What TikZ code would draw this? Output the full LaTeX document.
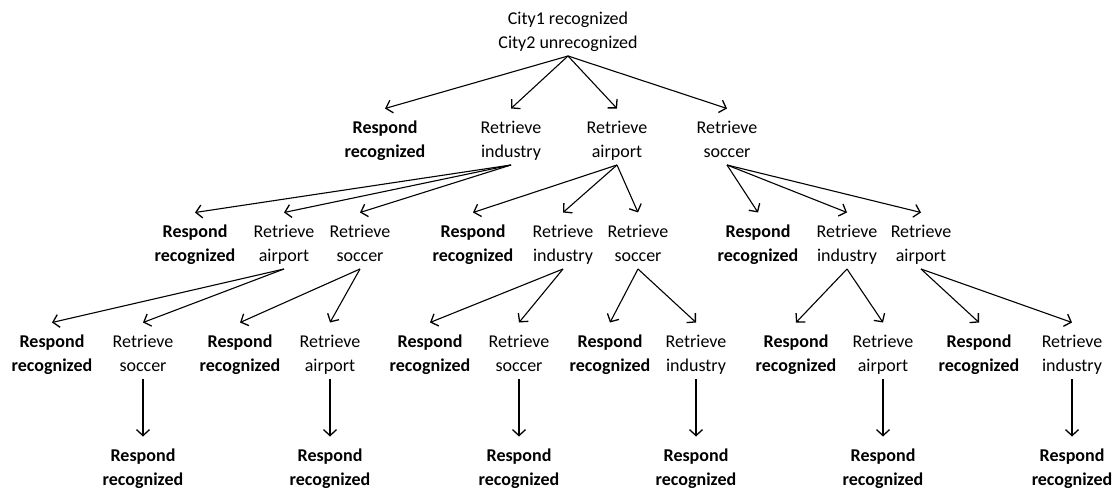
\documentclass[tikz,border=0pt]{standalone}
\usepackage{fontspec}
\setmainfont{Carlito}
\usetikzlibrary{arrows.meta}
\newcommand\tstr{\rule{0pt}{25.3pt}}
\newcommand\bstr{\rule[-7.2pt]{0pt}{7.2pt}}
\tikzset{
  lbl/.style={inner sep=0pt, outer sep=0pt, align=center, anchor=south,
    font=\fontsize{18}{24}\selectfont},
  arr/.style={line width=1.1pt, -{Straight Barb[length=6pt,width=13pt,line width=1.3pt]}}
}
\newcommand\resp{\tstr\textbf{Respond}\\\textbf{recognized}\bstr}
\newcommand\retr[1]{\tstr Retrieve\\#1\bstr}
\begin{document}
\begin{tikzpicture}[x=1pt,y=-1pt]
\useasboundingbox (0,0) rectangle (1115,489);
% level 0
\node[lbl] (r) at (568,56) {\tstr City1 recognized\\City2 unrecognized\bstr};
% level 1
\node[lbl] (a)  at (385,165) {\resp};
\node[lbl] (b)  at (511,165) {\retr{industry}};
\node[lbl] (c)  at (617,165) {\retr{airport}};
\node[lbl] (d)  at (727,165) {\retr{soccer}};
% level 2
\node[lbl] (b1) at (195,269) {\resp};
\node[lbl] (b2) at (284,269) {\retr{airport}};
\node[lbl] (b3) at (360,269) {\retr{soccer}};
\node[lbl] (c1) at (473,269) {\resp};
\node[lbl] (c2) at (563,269) {\retr{industry}};
\node[lbl] (c3) at (638,269) {\retr{soccer}};
\node[lbl] (d1) at (758,269) {\resp};
\node[lbl] (d2) at (847,269) {\retr{industry}};
\node[lbl] (d3) at (921,269) {\retr{airport}};
% level 3
\node[lbl] (b21) at (52,379)   {\resp};
\node[lbl] (b22) at (143,379)  {\retr{soccer}};
\node[lbl] (b31) at (240,379)  {\resp};
\node[lbl] (b32) at (330,379)  {\retr{airport}};
\node[lbl] (c21) at (430,379)  {\resp};
\node[lbl] (c22) at (519,379)  {\retr{soccer}};
\node[lbl] (c31) at (610,379)  {\resp};
\node[lbl] (c32) at (696,379)  {\retr{industry}};
\node[lbl] (d21) at (796,379)  {\resp};
\node[lbl] (d22) at (883,379)  {\retr{airport}};
\node[lbl] (d31) at (979,379)  {\resp};
\node[lbl] (d32) at (1072,379) {\retr{industry}};
% level 4
\node[lbl] (b221) at (143,493)  {\resp};
\node[lbl] (b321) at (330,493)  {\resp};
\node[lbl] (c221) at (519,493)  {\resp};
\node[lbl] (c321) at (696,493)  {\resp};
\node[lbl] (d221) at (883,493)  {\resp};
\node[lbl] (d321) at (1072,493) {\resp};
% connectors
\foreach \p/\c in {r/a,r/b,r/c,r/d,
  b/b1,b/b2,b/b3,c/c1,c/c2,c/c3,d/d1,d/d2,d/d3,
  b2/b21,b2/b22,b3/b31,b3/b32,c2/c21,c2/c22,c3/c31,c3/c32,
  d2/d21,d2/d22,d3/d31,d3/d32,
  b22/b221,b32/b321,c22/c221,c32/c321,d22/d221,d32/d321}
  \draw[arr] (\p.south) -- (\c.north);
\end{tikzpicture}
\end{document}
